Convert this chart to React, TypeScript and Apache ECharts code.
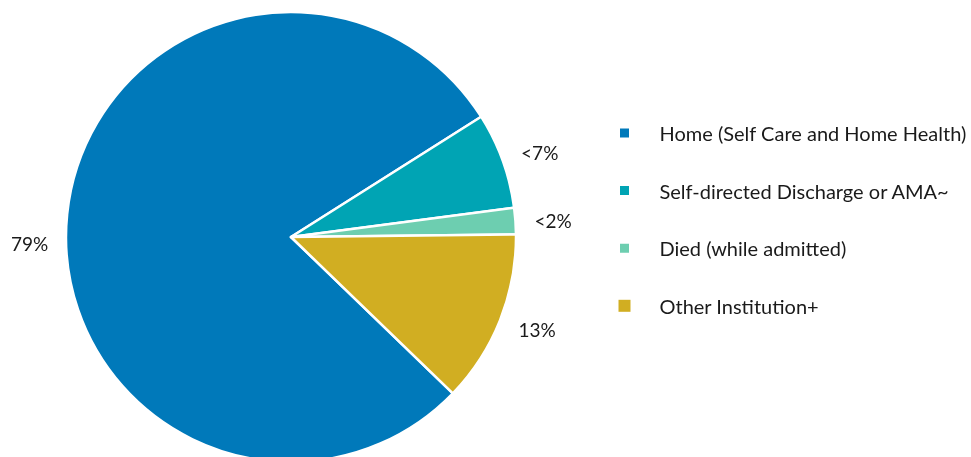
import React, { useEffect, useRef } from "react";
import * as echarts from "echarts";

const categories = [
  "Home (Self Care and Home Health)",
  "Self-directed Discharge or AMA~",
  "Died (while admitted)",
  "Other Institution+",
];
const values = [78.8, 6.9, 1.9, 12.4];
const labelTexts = ["79%", "<7%", "<2%", "13%"];
const colors = ["#0079BA", "#00A4B4", "#6DCEB0", "#D1AE22"];
const labelShiftY = [30, -5, 0, 6];

export default function App() {
  const ref = useRef<HTMLDivElement>(null);
  useEffect(() => {
    if (!ref.current) return;
    const chart = echarts.init(ref.current, undefined, { renderer: "svg" });
    const font = "Lato, 'Open Sans', sans-serif";
    chart.setOption({
      animation: false,
      color: colors,
      legend: {
        orient: "vertical",
        left: 612,
        top: 116,
        itemWidth: 12,
        itemHeight: 12,
        itemGap: 33.6,
        icon: "rect",
        selectedMode: false,
        data: categories.map((name, i) => ({
          name,
          itemStyle:
            i < 3
              ? { borderColor: "#ffffff", borderWidth: 3 }
              : { borderWidth: 0 },
        })),
        textStyle: {
          fontFamily: font,
          fontSize: 20,
          color: "#1a1a1a",
          lineHeight: 24,
          padding: [0, 0, 0, 24],
        },
      },
      series: [
        {
          type: "pie",
          center: [291, 237],
          radius: 225,
          startAngle: 316,
          clockwise: true,
          avoidLabelOverlap: false,
          itemStyle: { borderColor: "#ffffff", borderWidth: 2.5 },
          label: {
            show: true,
            position: "outside",
            fontFamily: font,
            fontSize: 19,
            color: "#1a1a1a",
            formatter: (p: any) => labelTexts[p.dataIndex],
          },
          labelLine: { show: false, length: 8, length2: 6 },
          labelLayout: (p: any) => ({ dy: labelShiftY[p.dataIndex] }),
          emphasis: { disabled: true },
          data: categories.map((name, i) => ({ name, value: values[i] })),
        },
      ],
    });
    return () => chart.dispose();
  }, []);
  return (
    <div
      ref={ref}
      style={{ position: "fixed", left: 0, top: 0, width: 971, height: 457 }}
    />
  );
}
